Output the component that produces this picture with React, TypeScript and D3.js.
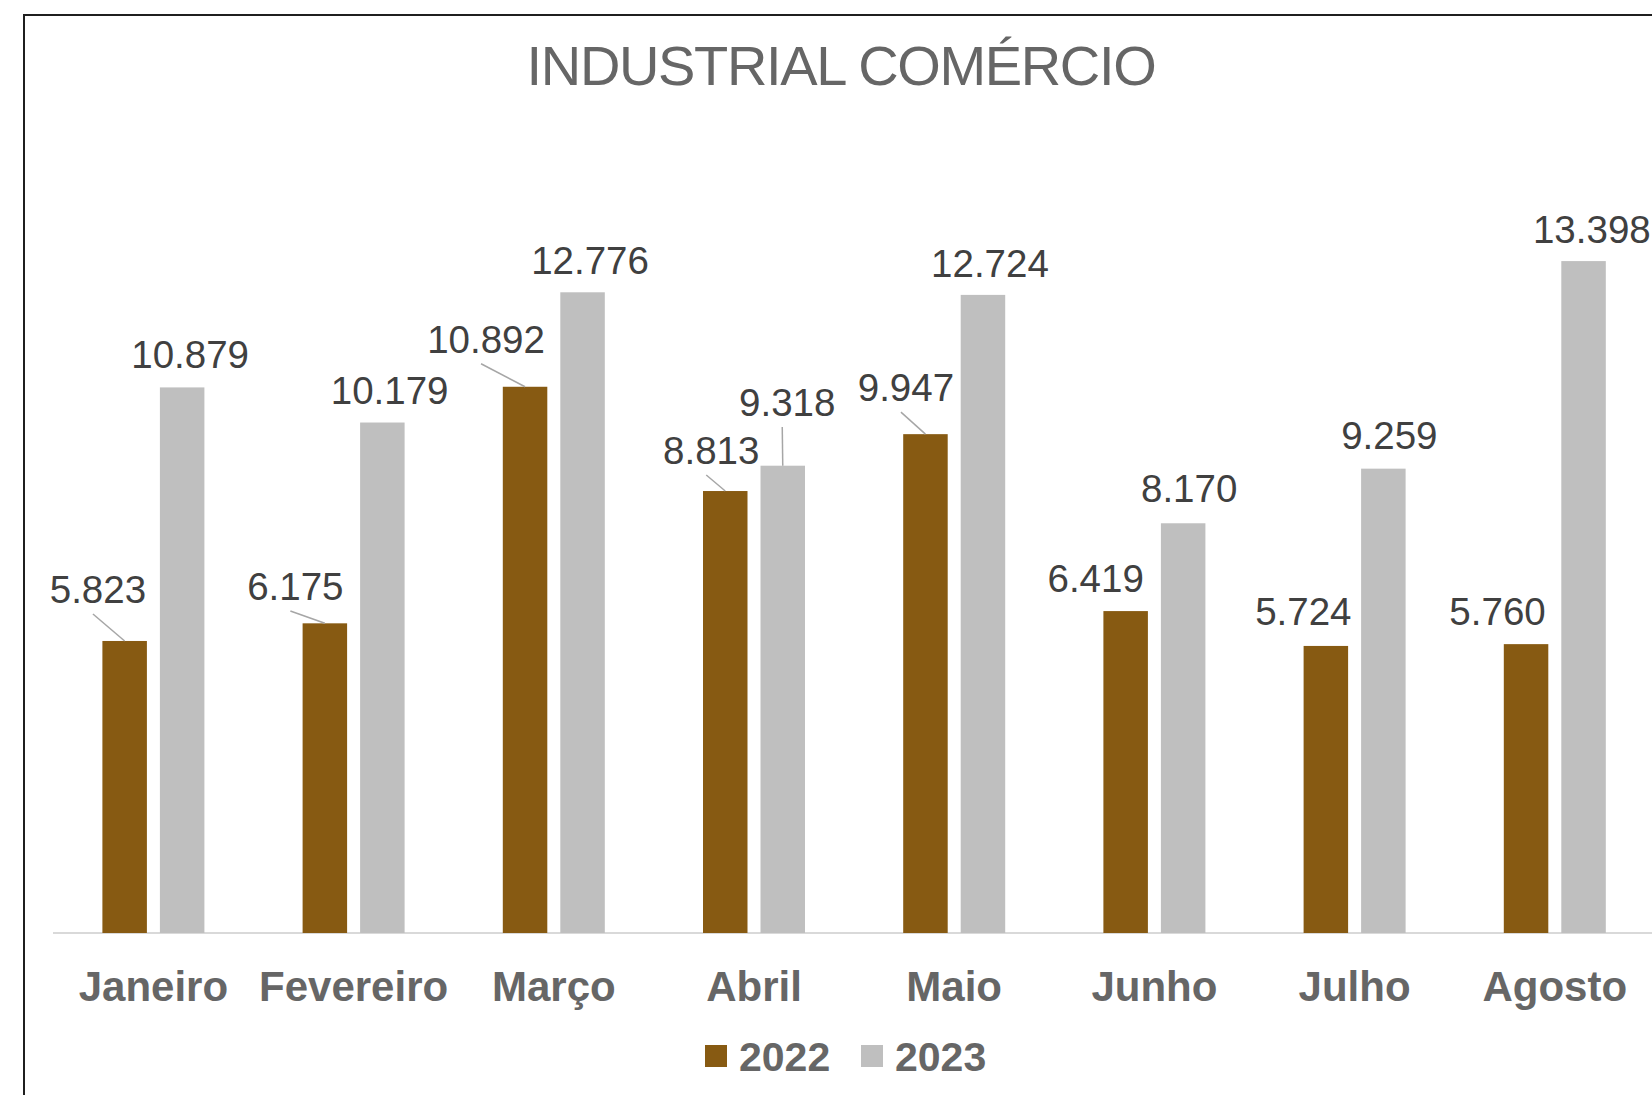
import React from "react";
import * as d3 from "d3";

const months = ["Janeiro", "Fevereiro", "Março", "Abril", "Maio", "Junho", "Julho", "Agosto"];
const seriesNames = ["2022", "2023"];
const values2022 = [5.823, 6.175, 10.892, 8.813, 9.947, 6.419, 5.724, 5.76];
const values2023 = [10.879, 10.179, 12.776, 9.318, 12.724, 8.17, 9.259, 13.398];
const labels2022 = ["5.823", "6.175", "10.892", "8.813", "9.947", "6.419", "5.724", "5.760"];
const labels2023 = ["10.879", "10.179", "12.776", "9.318", "12.724", "8.170", "9.259", "13.398"];
const title = "INDUSTRIAL COMÉRCIO";

// label placement offsets (relative to bar top-centre), as dragged in the original
const offsets2022: [number, number][] = [
  [-26.7, -38], [-29.5, -23.4], [-39, -34], [-14, -27], [-19.5, -33], [-30, -19.4], [-22.5, -21], [-28.5, -19],
];
const offsets2023: [number, number][] = [
  [8, -19], [7.3, -18.3], [7.5, -18.7], [4.5, -49.7], [7, -18.3], [6, -21.7], [6, -19.7], [8.3, -18.3],
];
const leaders2022 = [true, true, true, true, true, false, false, false];
const leaders2023 = [false, false, false, true, false, false, false, false];

const colors = ["#875A12", "#BFBFBF"];
const W = 1652;
const H = 1095;
const FONT = "'Liberation Sans', Arial, Helvetica, sans-serif";

export default function App() {
  const x = d3.scaleBand<string>().domain(months).range([53.3, 53.3 + 8 * 200.2]).paddingInner(0).paddingOuter(0);
  const xSub = d3
    .scaleBand<string>()
    .domain(seriesNames)
    .range([x.bandwidth() / 2 - 51, x.bandwidth() / 2 + 51])
    .paddingInner(13 / 57.5)
    .paddingOuter(0);
  const y = d3.scaleLinear().domain([0, 14]).range([933, 933 - 14 * 50.15]);

  const series = [
    { name: seriesNames[0], values: values2022, labels: labels2022, offsets: offsets2022, leaders: leaders2022, color: colors[0] },
    { name: seriesNames[1], values: values2023, labels: labels2023, offsets: offsets2023, leaders: leaders2023, color: colors[1] },
  ];

  const legendX = [705, 861];

  return (
    <svg width={W} height={H} style={{ position: "absolute", left: 0, top: 0, background: "#fff" }} fontFamily={FONT}>
      <rect x={0} y={0} width={W} height={H} fill="#fff" />
      {/* frame */}
      <line x1={23} y1={15} x2={W} y2={15} stroke="#1f1f1f" strokeWidth={2} />
      <line x1={24} y1={14} x2={24} y2={H} stroke="#1f1f1f" strokeWidth={2} />

      <text x={841} y={85} textAnchor="middle" fontSize={56} letterSpacing={-1.35} fill="#666666">
        {title}
      </text>

      {/* axis */}
      <line x1={53} y1={y(0)} x2={W} y2={y(0)} stroke="#D9D9D9" strokeWidth={2} />

      {series.map((s) =>
        months.map((m, i) => {
          const bx = (x(m) as number) + (xSub(s.name) as number);
          return (
            <rect
              key={s.name + m}
              x={bx}
              y={y(s.values[i])}
              width={xSub.bandwidth()}
              height={y(0) - y(s.values[i])}
              fill={s.color}
            />
          );
        })
      )}

      {series.map((s) =>
        months.map((m, i) => {
          const cx = (x(m) as number) + (xSub(s.name) as number) + xSub.bandwidth() / 2;
          const top = y(s.values[i]);
          const lx = cx + s.offsets[i][0];
          const ly = top + s.offsets[i][1];
          return (
            <g key={"l" + s.name + m}>
              {s.leaders[i] && (
                <line x1={lx - 5} y1={ly + 11} x2={cx} y2={top} stroke="#A6A6A6" strokeWidth={1.5} />
              )}
              <text x={lx} y={ly} textAnchor="middle" fontSize={38.5} fill="#404040">
                {s.labels[i]}
              </text>
            </g>
          );
        })
      )}

      {months.map((m) => (
        <text
          key={"c" + m}
          x={(x(m) as number) + x.bandwidth() / 2}
          y={1001}
          textAnchor="middle"
          fontSize={42}
          fontWeight="bold"
          fill="#666666"
        >
          {m}
        </text>
      ))}

      {series.map((s, i) => (
        <g key={"lg" + s.name}>
          <rect x={legendX[i]} y={1045} width={22} height={22} fill={s.color} />
          <text x={legendX[i] + 34} y={1070.7} fontSize={41} fontWeight="bold" fill="#666666">
            {s.name}
          </text>
        </g>
      ))}
    </svg>
  );
}
